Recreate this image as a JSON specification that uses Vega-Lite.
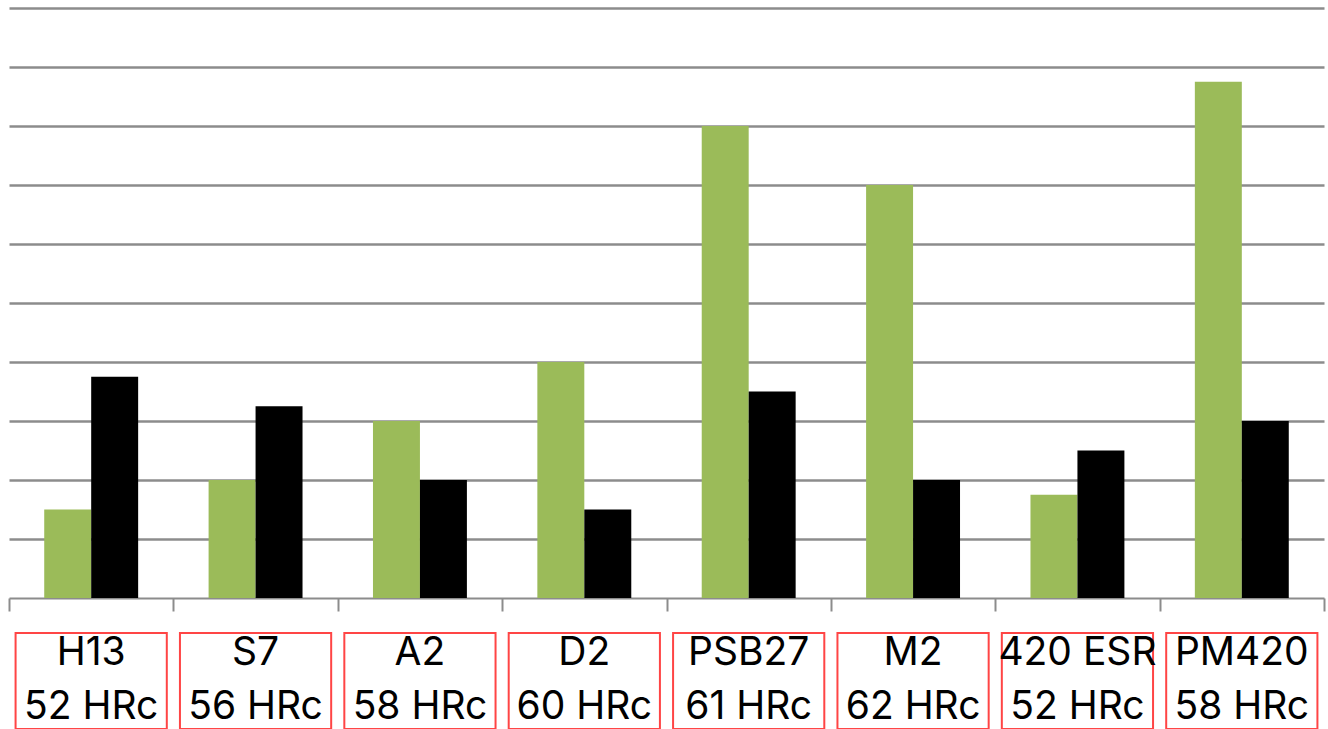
{
  "$schema": "https://vega.github.io/schema/vega-lite/v6.json",
  "background": "white",
  "padding": {"left": 8, "top": 8, "right": 5, "bottom": 0},
  "config": {"view": {"stroke": null}},
  "datasets": {
    "bars": [
      {"steel": "H13", "series": "Series 1", "value": 1.5},
      {"steel": "H13", "series": "Series 2", "value": 3.75},
      {"steel": "S7", "series": "Series 1", "value": 2},
      {"steel": "S7", "series": "Series 2", "value": 3.25},
      {"steel": "A2", "series": "Series 1", "value": 3},
      {"steel": "A2", "series": "Series 2", "value": 2},
      {"steel": "D2", "series": "Series 1", "value": 4},
      {"steel": "D2", "series": "Series 2", "value": 1.5},
      {"steel": "PSB27", "series": "Series 1", "value": 8},
      {"steel": "PSB27", "series": "Series 2", "value": 3.5},
      {"steel": "M2", "series": "Series 1", "value": 7},
      {"steel": "M2", "series": "Series 2", "value": 2},
      {"steel": "420 ESR", "series": "Series 1", "value": 1.75},
      {"steel": "420 ESR", "series": "Series 2", "value": 2.5},
      {"steel": "PM420", "series": "Series 1", "value": 8.75},
      {"steel": "PM420", "series": "Series 2", "value": 3}
    ],
    "labels": [
      {"steel": "H13", "label": "H13\n52 HRc"},
      {"steel": "S7", "label": "S7\n56 HRc"},
      {"steel": "A2", "label": "A2\n58 HRc"},
      {"steel": "D2", "label": "D2\n60 HRc"},
      {"steel": "PSB27", "label": "PSB27\n61 HRc"},
      {"steel": "M2", "label": "M2\n62 HRc"},
      {"steel": "420 ESR", "label": "420 ESR\n52 HRc"},
      {"steel": "PM420", "label": "PM420\n58 HRc"}
    ]
  },
  "resolve": {"scale": {"x": "independent"}},
  "spacing": 20,
  "vconcat": [
    {
      "width": 1315,
      "height": 590,
      "data": {"name": "bars"},
      "mark": {"type": "bar"},
      "encoding": {
        "x": {
          "field": "steel", "type": "nominal",
          "sort": ["H13", "S7", "A2", "D2", "PSB27", "M2", "420 ESR", "PM420"],
          "scale": {"paddingInner": 0, "paddingOuter": 0},
          "axis": {"labels": false, "title": null, "tickBand": "extent", "tickSize": 13, "tickColor": "#8c8c8c", "tickWidth": 2, "domainColor": "#8c8c8c", "domainWidth": 2}
        },
        "xOffset": {
          "field": "series", "type": "nominal",
          "scale": {"paddingInner": 0, "paddingOuter": 0.75}
        },
        "y": {
          "field": "value", "type": "quantitative",
          "scale": {"domain": [0, 10], "nice": false},
          "axis": {"title": null, "labels": false, "ticks": false, "domain": false, "grid": true, "values": [1,2,3,4,5,6,7,8,9,10], "gridColor": "#8c8c8c", "gridWidth": 2.5, "gridOpacity": 1}
        },
        "color": {
          "field": "series", "type": "nominal",
          "scale": {"domain": ["Series 1", "Series 2"], "range": ["#9BBB59", "#000000"]},
          "legend": null
        }
      }
    },
    {
      "width": 1315,
      "height": 96,
      "data": {"name": "labels"},
      "layer": [
        {
          "mark": {"type": "rect", "fill": "white", "stroke": "#ff4545", "strokeWidth": 2},
          "encoding": {
            "x": {
              "field": "steel", "type": "nominal",
              "sort": ["H13", "S7", "A2", "D2", "PSB27", "M2", "420 ESR", "PM420"],
              "scale": {"paddingInner": 0.08, "paddingOuter": 0.04},
              "axis": null
            }
          }
        },
        {
          "mark": {"type": "text", "font": "Inter", "fontSize": 39, "lineBreak": "\n", "lineHeight": 54, "baseline": "middle", "color": "black", "dy": -28},
          "encoding": {
            "x": {
              "field": "steel", "type": "nominal",
              "sort": ["H13", "S7", "A2", "D2", "PSB27", "M2", "420 ESR", "PM420"]
            },
            "text": {"field": "label"}
          }
        }
      ]
    }
  ]
}
